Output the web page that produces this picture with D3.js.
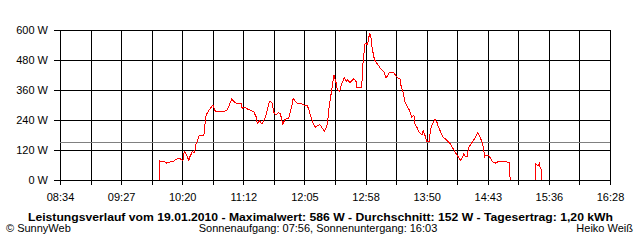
<!DOCTYPE html>
<html>
<head>
<meta charset="utf-8">
<script src="https://cdn.jsdelivr.net/npm/d3@7"></script>
<style>
body { margin: 0; background: #fff; }
text { font-family: "Liberation Sans", Arial, sans-serif; font-size: 11px; fill: #000; }
.axis line { stroke: #000; shape-rendering: crispEdges; }
</style>
</head>
<body>
<div id="chart"></div>
<script>
"use strict";

// power readings (time of day, watts); null = no data
var times = ["10:00","10:00","10:04","10:06","10:09","10:12","10:14","10:17","10:19","10:20",
	"10:21","10:23","10:25","10:26","10:28","10:30","10:31","10:34","10:38","10:39",
	"10:40","10:42","10:45","10:46","10:48","10:55","10:58","11:00","11:02","11:05",
	"11:08","11:10","11:11","11:13","11:16","11:19","11:21","11:23","11:24","11:26",
	"11:28","11:30","11:32","11:34","11:35","11:37","11:38","11:40","11:42","11:44",
	"11:45","11:46","11:48","11:51","11:52","11:54","11:55","11:57","11:59","12:01",
	"12:05","12:07","12:09","12:10","12:12","12:14","12:16","12:18","12:20","12:22",
	"12:24","12:25","12:26","12:28","12:29","12:30","12:32","12:33","12:35","12:37",
	"12:39","12:41","12:42","12:44","12:45","12:47","12:49","12:50","12:54","12:55",
	"12:56","12:57","12:59","13:00","13:01","13:02","13:03","13:05","13:06","13:08",
	"13:11","13:13","13:15","13:16","13:18","13:21","13:23","13:25","13:27","13:28",
	"13:30","13:31","13:33","13:35","13:37","13:39","13:40","13:42","13:43","13:46",
	"13:47","13:49","13:50","13:52","13:53","13:54","13:56","13:57","13:59","14:00",
	"14:02","14:04","14:07","14:10","14:12","14:14","14:16","14:18","14:19","14:21",
	"14:22","14:23","14:25","14:26","14:27","14:29","14:31","14:33","14:34","14:36",
	"14:38","14:39","14:40","14:41","14:43","14:44","14:45","14:46","14:47","14:49",
	"14:51","14:56","14:59","15:01","15:02","15:10","15:24","15:24","15:25","15:26",
	"15:27","15:28","15:29","15:29"];
var watts = [0,76,74,67,72,75,83,87,80,78,
	113,103,77,93,113,109,140,177,180,227,
	260,277,296,299,273,273,280,300,324,309,
	304,307,287,291,283,277,273,253,227,237,
	224,240,267,307,317,307,273,260,269,267,
	240,224,243,247,264,300,327,313,304,307,
	299,299,275,255,228,211,219,221,208,195,
	215,248,295,355,388,421,388,361,355,388,
	408,395,401,388,395,405,397,368,371,461,
	508,548,541,568,586,568,528,481,475,461,
	441,435,408,415,432,432,421,408,405,375,
	348,315,295,281,251,259,221,208,195,181,
	197,173,153,153,187,213,233,243,229,213,
	193,173,160,147,131,116,100,87,77,93,
	107,96,96,127,136,149,163,180,189,173,
	147,127,93,100,100,93,87,77,73,67,
	72,75,72,69,0,null,0,64,60,57,
	67,47,40,0];

var averageWatts = 152;
var yTicks = [0, 120, 240, 360, 480, 600];
var xTickLabels = ["08:34","09:27","10:20","11:12","12:05","12:58","13:50","14:43","15:36","16:28"];

var title = "Leistungsverlauf vom 19.01.2010 - Maximalwert: 586 W - Durchschnitt: 152 W - Tagesertrag: 1,20 kWh";
var footLeft = "\u00a9 SunnyWeb";
var footMid = "Sonnenaufgang: 07:56, Sonnenuntergang: 16:03";
var footRight = "Heiko Wei\u00df";

var width = 640;
var height = 240;
var margin = {top: 30, right: 30, bottom: 60, left: 60};

var parseTime = d3.timeParse("%H:%M");

var data = times.map(function(t, i) { return {time: parseTime(t), w: watts[i]}; });

var svg = d3.select("#chart").append("svg")
	.attr("width", width)
	.attr("height", height);

var t0 = parseTime(xTickLabels[0]);
var t1 = parseTime(xTickLabels[xTickLabels.length - 1]);

var x = d3.scaleTime()
	.domain([t0, t1])
	.range([margin.left, width - margin.right]);

var y = d3.scaleLinear()
	.domain([0, 600])
	.range([height - margin.bottom, margin.top]);

// 18 grid steps, every second one labelled
var gridTimes = d3.range(19).map(function(i) {
	return new Date(+t0 + i * (t1 - t0) / 18);
});

var xAxis = d3.axisBottom(x)
	.tickValues(gridTimes)
	.tickSize(-(y(0) - y(600) + 5))
	.tickPadding(8)
	.tickFormat(function(d, i) { return i % 2 == 0 ? xTickLabels[i / 2] : ""; });

var yAxis = d3.axisLeft(y)
	.tickValues(yTicks)
	.tickSize(-(x.range()[1] - x.range()[0] + 6))
	.tickPadding(6)
	.tickFormat(function(d) { return d + " W"; });

svg.append("g")
	.attr("class", "axis axis--x")
	.attr("transform", "translate(0," + (y(0) + 5) + ")")
	.call(xAxis)
	.call(function(g) { g.select(".domain").remove(); });

svg.append("g")
	.attr("class", "axis axis--y")
	.attr("transform", "translate(" + (x.range()[0] - 6) + ",0)")
	.call(yAxis)
	.call(function(g) { g.select(".domain").remove(); });

svg.selectAll(".axis text")
	.attr("font-family", null)
	.attr("font-size", null)
	.attr("fill", null)
	.style("font-size", "11px");

// average line
svg.append("line")
	.attr("x1", x.range()[0])
	.attr("x2", x.range()[1])
	.attr("y1", Math.round(y(averageWatts)) + 0.5)
	.attr("y2", Math.round(y(averageWatts)) + 0.5)
	.attr("stroke", "#808080")
	.attr("stroke-width", 1)
	.attr("shape-rendering", "crispEdges");

var line = d3.line()
	.defined(function(d) { return d.w != null; })
	.x(function(d) { return x(d.time); })
	.y(function(d) { return y(d.w); });

svg.append("path")
	.datum(data)
	.attr("class", "line")
	.attr("stroke", "#ff0000")
	.attr("stroke-width", 1)
	.attr("fill", "none")
	.attr("shape-rendering", "crispEdges")
	.attr("d", line);

svg.append("text")
	.attr("x", 28)
	.attr("y", 221)
	.attr("textLength", 585)
	.attr("lengthAdjust", "spacingAndGlyphs")
	.style("font-weight", "bold")
	.text(title);

svg.append("text")
	.attr("x", 6)
	.attr("y", 232)
	.text(footLeft);

svg.append("text")
	.attr("x", 318)
	.attr("y", 232)
	.attr("text-anchor", "middle")
	.text(footMid);

svg.append("text")
	.attr("x", 633)
	.attr("y", 232)
	.attr("text-anchor", "end")
	.text(footRight);
</script>
</body>
</html>
